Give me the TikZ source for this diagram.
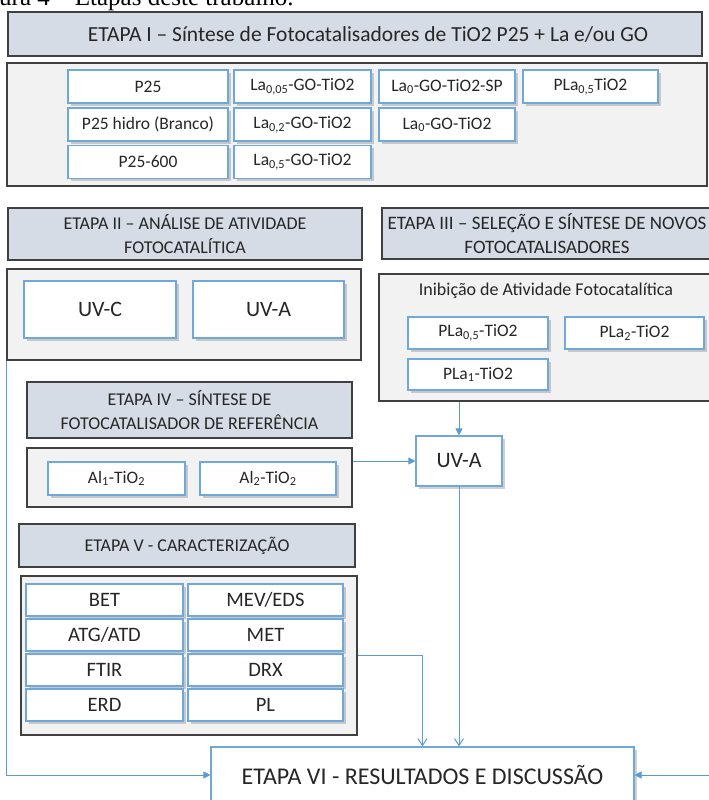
\documentclass[tikz,border=0pt]{standalone}
\usepackage{fontspec}
\setmainfont{Carlito}
\newfontfamily\capfont{Liberation Serif}
\usetikzlibrary{shadows,arrows.meta,calc}

\definecolor{hdrfill}{HTML}{D6DCE5}
\definecolor{frame}{HTML}{404040}
\definecolor{panel}{HTML}{F2F2F2}
\definecolor{itemline}{HTML}{6FA8DC}
\definecolor{link}{HTML}{5B9BD5}
\definecolor{ink}{HTML}{262626}

\tikzset{
  sz/.style 2 args={minimum width=#1pt, minimum height=#2pt},
  hdr/.style={draw=frame, line width=1.3pt, fill=hdrfill, text=ink, align=center,
    inner sep=0pt, font=\fontsize{18}{23.5}\selectfont},
  panelbox/.style={draw=frame, line width=1.3pt, fill=panel, inner sep=0pt},
  item/.style={draw=itemline, line width=1.1pt, fill=white, text=ink, inner sep=0pt,
    drop shadow={shadow xshift=2.5pt, shadow yshift=-2.5pt, opacity=0.3, fill=black!60},
    font=\fontsize{17.5}{20}\selectfont},
  bigitem/.style={item, font=\fontsize{22}{26}\selectfont},
  charitem/.style={item, font=\fontsize{20.5}{24}\selectfont},
  conn/.style={draw=link, line width=1pt},
  tri/.style={conn, -{Triangle[length=7pt,width=7pt]}},
  barb/.style={conn, -{Straight Barb[length=7pt,width=9pt]}},
}

\begin{document}
\begin{tikzpicture}[x=1pt, y=-1pt]
\useasboundingbox (0,0) rectangle (709,800);
\fill[white] (0,0) rectangle (709,800);
\clip (0,0) rectangle (709,800);

% figure caption, cut at the top of the page
\node[font=\capfont\fontsize{25}{28}\selectfont, anchor=base west, inner sep=0pt] (cap) at (-1,5.5)
  {ura 4 – Etapas deste trabalho.};

% ---- Etapa I
\node[hdr, sz={694}{44}, font=\fontsize{21.5}{25}\selectfont] (h1) at (355,34)
  {\hspace*{26pt}ETAPA I – Síntese de Fotocatalisadores de TiO2 P25 + La e/ou GO};
\node[panelbox, sz={700}{123}] (c1) at (357,124.5) {};
\node[item, sz={160}{33}] (p25)   at (148,86.5)   {P25};
\node[item, sz={137}{33}] (la005) at (302.5,86.5) {La\textsubscript{0,05}-GO-TiO2};
\node[item, sz={136}{33}] (la0sp) at (447,86.5)   {La\textsubscript{0}-GO-TiO2-SP};
\node[item, sz={135}{33}] (plaa)  at (590.5,86.5) {PLa\textsubscript{0,5}TiO2};
\node[item, sz={160}{33}] (hidro) at (148,124.5)   {P25 hidro (Branco)};
\node[item, sz={137}{33}] (la02)  at (302.5,124.5) {La\textsubscript{0,2}-GO-TiO2};
\node[item, sz={136}{33}] (la0)   at (447,124.5)   {La\textsubscript{0}-GO-TiO2};
\node[item, sz={160}{33}] (p600)  at (148,162)     {P25-600};
\node[item, sz={137}{33}] (la05)  at (302.5,162)   {La\textsubscript{0,5}-GO-TiO2};

% ---- Etapa II
\node[hdr, sz={354}{52}] (h2) at (185,234)
  {ETAPA II – ANÁLISE DE ATIVIDADE\\FOTOCATALÍTICA};
\node[panelbox, sz={354}{91}] (c2) at (184,314.5) {};
\node[bigitem, sz={152}{57}] (uvc)  at (100,309.5)   {UV-C};
\node[bigitem, sz={151}{57}] (uva1) at (268.5,309.5) {UV-A};

% ---- Etapa III
\node[hdr, sz={330}{51}, font=\fontsize{19}{24}\selectfont] (h3) at (547,233.5)
  {ETAPA III – SELEÇÃO E SÍNTESE DE NOVOS\\FOTOCATALISADORES};
\node[panelbox, sz={333}{127}] (c3) at (545.5,337.5) {};
\node[text=ink, font=\fontsize{18}{22}\selectfont, inner sep=0pt] (inib) at (546,291)
  {Inibição de Atividade Fotocatalítica};
\node[item, sz={140}{32}] (pla05) at (478,333)   {PLa\textsubscript{0,5}-TiO2};
\node[item, sz={139}{32}] (pla2)  at (634.5,333) {PLa\textsubscript{2}-TiO2};
\node[item, sz={140}{31}] (pla1)  at (478,374.5) {PLa\textsubscript{1}-TiO2};

% ---- Etapa IV
\node[hdr, sz={325}{56}] (h4) at (189.5,410)
  {ETAPA IV – SÍNTESE DE\\FOTOCATALISADOR DE REFERÊNCIA};
\node[panelbox, sz={325}{59}] (c4) at (189.5,477.5) {};
\node[item, sz={137}{33}] (al1) at (116.5,478.5) {Al\textsubscript{1}-TiO\textsubscript{2}};
\node[item, sz={136}{33}] (al2) at (268,478.5)   {Al\textsubscript{2}-TiO\textsubscript{2}};

% UV-A test of the new photocatalysts
\node[bigitem, sz={86}{50}] (uva2) at (459,461) {UV-A};

% ---- Etapa V
\node[hdr, sz={336}{43}] (h5) at (187,545.5) {ETAPA V - CARACTERIZAÇÃO};
\node[panelbox, sz={336}{159}] (c5) at (189,655.5) {};
\node[charitem, sz={157}{32}] (bet)  at (104.5,600) {BET};
\node[charitem, sz={155}{32}] (mev)  at (265.5,600) {MEV/EDS};
\node[charitem, sz={157}{32}] (atg)  at (104.5,635) {ATG/ATD};
\node[charitem, sz={155}{32}] (met)  at (265.5,635) {MET};
\node[charitem, sz={157}{32}] (ftir) at (104.5,670) {FTIR};
\node[charitem, sz={155}{32}] (drx)  at (265.5,670) {DRX};
\node[charitem, sz={157}{32}] (erd)  at (104.5,705) {ERD};
\node[charitem, sz={155}{32}] (pl)   at (265.5,705) {PL};

% ---- Etapa VI
\node[item, sz={423}{56}, font=\fontsize{24}{28}\selectfont] (e6) at (422.5,775)
  {ETAPA VI - RESULTADOS E DISCUSSÃO};

% ---- connectors
\coordinate (rt) at (712,775);
\draw[tri]  (c2.south west) |- (e6.west);
\draw[tri]  (uva2.north |- c3.south) -- (uva2.north);
\draw[tri]  (c4.east |- uva2.west) -- (uva2.west);
\draw[barb] (uva2.south) -- (uva2.south |- e6.north);
\draw[barb] (c5.east) -| (e6.north);
\draw[tri]  (rt) -- (e6.east);
\end{tikzpicture}
\end{document}
